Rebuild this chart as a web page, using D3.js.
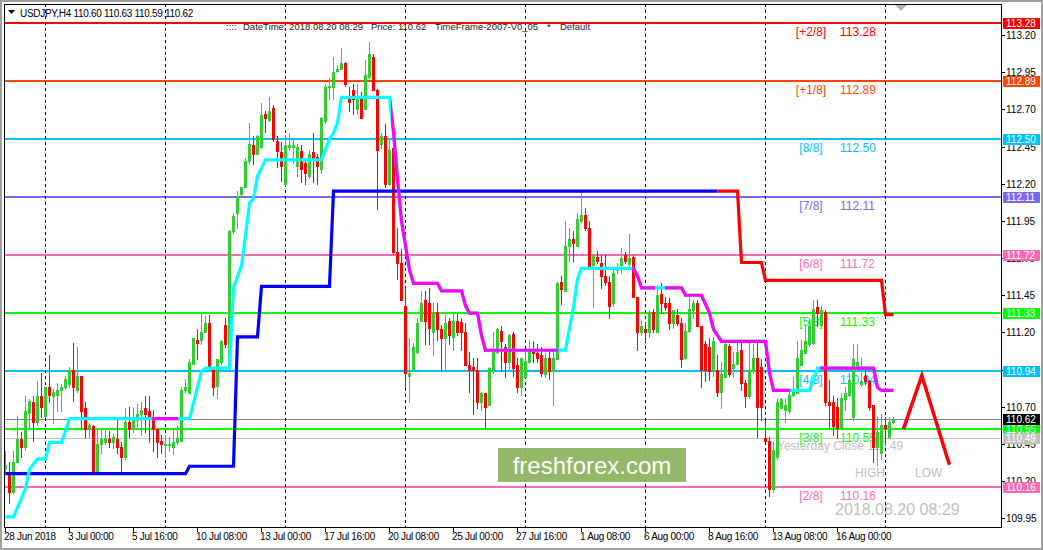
<!DOCTYPE html>
<html><head><meta charset="utf-8">
<script src="https://cdn.jsdelivr.net/npm/d3@7"></script>
<style>
body{margin:0;background:#fff;}
svg{display:block;font-family:"Liberation Sans",Arial,sans-serif;}
</style>
</head><body>
<svg id="c" width="1043" height="550"></svg>
<script>
// ---------------- DATA ----------------
const opens=[110.29,110.26,110.13,110.33,110.48,110.43,110.66,110.73,110.60,110.77,
110.64,110.83,110.77,110.78,110.81,110.83,110.85,110.95,110.81,110.91,
110.69,110.55,110.57,110.27,110.45,110.46,110.48,110.46,110.48,110.43,
110.36,110.60,110.55,110.61,110.65,110.69,110.67,110.62,110.55,110.47,
110.44,110.44,110.43,110.46,110.47,110.81,110.79,110.99,111.15,111.15,
111.20,111.26,110.97,110.84,111.00,111.25,110.96,111.88,112.00,112.13,
112.18,112.35,112.46,112.40,112.45,112.67,112.63,112.71,112.49,112.41,
112.20,112.45,112.45,112.32,112.42,112.34,112.25,112.41,112.38,112.30,
112.62,112.85,112.85,112.96,112.97,113.01,112.79,112.83,112.70,112.77,
112.70,112.92,113.05,112.83,112.47,112.52,112.20,112.44,111.74,111.67,
111.38,110.91,110.95,111.07,111.28,111.42,111.40,111.20,111.34,111.22,
111.16,111.28,111.17,111.28,111.27,111.20,110.98,110.97,110.95,110.73,
110.79,110.71,110.95,111.07,111.21,111.10,111.00,111.19,110.98,110.83,
110.90,111.00,111.07,111.06,111.05,110.92,111.03,110.94,111.02,111.54,
111.48,111.78,111.83,111.78,111.95,111.99,111.90,111.65,111.71,111.67,
111.58,111.54,111.40,111.62,111.65,111.72,111.66,111.71,111.44,111.20,
111.22,111.20,111.34,111.20,111.46,111.40,111.40,111.26,111.32,111.26,
111.03,111.21,111.35,111.40,111.24,111.12,111.10,110.95,110.95,110.80,
110.90,111.11,110.96,110.99,111.08,110.86,110.77,110.94,111.03,110.97,
110.49,110.47,110.15,110.36,110.69,110.68,110.67,110.78,110.79,110.98,
111.06,111.12,111.13,111.37,111.25,111.34,110.73,110.73,110.70,110.56,
110.75,110.78,110.63,110.96,110.85,110.91,110.87,110.71,110.43,110.39,
110.58,110.50,110.60];
const highs=[110.40,110.33,110.40,110.64,110.53,110.77,110.75,110.77,110.87,110.93,
110.83,111.05,110.82,110.86,110.85,110.91,110.97,111.13,111.10,110.91,
110.73,110.59,110.58,110.55,110.55,110.55,110.54,110.52,110.61,110.46,
110.69,110.70,110.69,110.72,110.73,110.77,110.77,110.68,110.55,110.51,
110.51,110.50,110.55,110.57,110.83,110.89,111.02,111.16,111.22,111.33,
111.31,111.32,110.97,111.02,111.15,111.30,111.89,112.00,112.15,112.18,
112.37,112.61,112.52,112.53,112.74,112.69,112.78,112.73,112.52,112.48,
112.53,112.54,112.50,112.47,112.46,112.36,112.43,112.54,112.40,112.65,
112.87,112.91,113.05,113.00,113.11,113.02,112.85,112.87,112.87,112.82,
113.03,113.15,113.07,112.84,112.54,112.60,112.50,112.47,111.90,111.76,
111.50,111.16,111.13,111.30,111.48,111.48,111.50,111.40,111.40,111.25,
111.33,111.30,111.34,111.33,111.30,111.26,111.07,111.03,111.03,110.80,
110.79,110.97,111.20,111.23,111.24,111.12,111.19,111.20,111.03,111.03,
111.07,111.15,111.14,111.12,111.10,111.06,111.07,111.08,111.54,111.58,
111.95,111.90,111.88,112.00,112.15,112.04,111.95,111.73,111.75,111.72,
111.72,111.58,111.64,111.67,111.77,111.74,111.86,111.72,111.44,111.28,
111.27,111.35,111.36,111.52,111.53,111.44,111.43,111.35,111.36,111.30,
111.26,111.46,111.42,111.42,111.24,111.14,111.16,111.17,111.05,111.00,
111.15,111.12,111.07,111.13,111.13,110.88,111.13,111.12,111.13,111.02,
110.61,110.50,110.46,110.76,110.76,110.75,110.81,110.90,111.14,111.15,
111.24,111.30,111.42,111.42,111.38,111.35,110.88,110.77,110.76,110.79,
110.83,110.93,111.12,111.12,111.03,110.96,110.88,110.71,110.63,110.65,
110.63,110.63,110.63];
const lows=[110.25,110.05,110.12,110.33,110.36,110.41,110.56,110.47,110.58,110.63,
110.63,110.73,110.59,110.67,110.67,110.82,110.83,110.74,110.80,110.56,
110.50,110.50,110.27,110.26,110.39,110.45,110.43,110.42,110.39,110.27,
110.35,110.50,110.53,110.57,110.51,110.53,110.46,110.40,110.36,110.39,
110.36,110.40,110.38,110.45,110.47,110.80,110.79,110.99,111.02,111.12,
111.20,110.96,110.78,110.76,110.99,111.10,110.95,111.87,111.90,112.12,
112.18,112.34,112.33,112.40,112.44,112.55,112.62,112.49,112.31,112.22,
112.19,112.43,112.34,112.25,112.21,112.20,112.24,112.21,112.20,112.27,
112.61,112.77,112.77,112.95,112.97,112.86,112.69,112.67,112.67,112.64,
112.70,112.91,112.83,112.03,112.44,112.18,112.19,111.73,111.56,111.42,
110.83,110.73,110.94,111.06,111.28,111.12,111.12,111.05,111.15,110.95,
110.95,111.12,111.08,111.18,111.08,110.98,110.80,110.65,110.69,110.68,
110.56,110.71,110.93,111.06,110.94,110.90,110.94,110.91,110.80,110.78,
110.90,111.00,111.00,111.00,110.91,110.90,110.89,110.71,111.02,111.39,
111.48,111.68,111.68,111.78,111.94,111.89,111.64,111.37,111.67,111.50,
111.52,111.30,111.38,111.60,111.60,111.67,111.63,111.44,111.08,111.18,
111.14,111.17,111.20,111.20,111.33,111.35,111.22,111.23,111.25,110.97,
111.02,111.20,111.30,111.24,110.83,110.87,110.88,110.91,110.77,110.69,
110.90,110.91,110.90,110.99,110.81,110.70,110.76,110.93,110.50,110.61,
110.47,110.10,110.13,110.35,110.69,110.60,110.66,110.77,110.79,110.98,
111.06,111.11,111.12,111.24,111.24,110.71,110.56,110.51,110.49,110.55,
110.68,110.77,110.61,110.95,110.84,110.85,110.68,110.33,110.31,110.35,
110.45,110.49,110.59];
const closes=[110.31,110.13,110.33,110.48,110.43,110.67,110.74,110.60,110.77,110.70,
110.83,110.78,110.80,110.81,110.83,110.89,110.95,110.83,110.91,110.67,
110.55,110.58,110.27,110.45,110.48,110.49,110.46,110.50,110.43,110.36,
110.60,110.55,110.61,110.65,110.68,110.65,110.63,110.55,110.46,110.45,
110.45,110.45,110.46,110.49,110.81,110.83,111.00,111.16,111.13,111.20,
111.26,110.97,110.83,111.02,111.14,111.12,111.88,111.98,112.12,112.18,
112.35,112.47,112.40,112.52,112.66,112.64,112.69,112.50,112.42,112.32,
112.46,112.46,112.46,112.45,112.30,112.27,112.40,112.36,112.32,112.64,
112.85,112.86,112.95,112.97,113.01,112.87,112.75,112.77,112.79,112.64,
112.93,113.07,112.83,112.43,112.52,112.20,112.43,111.74,111.67,111.42,
110.93,110.93,111.10,111.26,111.40,111.28,111.23,111.34,111.22,111.16,
111.26,111.18,111.28,111.20,111.20,110.98,110.95,110.95,110.73,110.79,
110.70,110.96,111.07,111.22,111.14,111.00,111.18,110.96,110.83,111.03,
111.01,111.07,111.06,111.03,110.93,111.03,110.94,111.03,111.53,111.49,
111.78,111.83,111.80,111.96,111.99,111.90,111.64,111.72,111.68,111.58,
111.54,111.38,111.60,111.64,111.70,111.68,111.70,111.44,111.20,111.24,
111.20,111.34,111.22,111.45,111.40,111.37,111.26,111.35,111.26,111.02,
111.21,111.36,111.40,111.24,110.95,110.95,110.94,111.14,110.80,110.92,
111.12,110.92,110.99,111.07,110.86,110.77,110.95,111.03,110.70,110.70,
110.47,110.15,110.41,110.73,110.75,110.71,110.78,110.80,111.03,111.08,
111.14,111.24,111.36,111.33,111.35,110.73,110.71,110.57,110.56,110.76,
110.79,110.88,111.02,111.00,110.87,110.87,110.70,110.43,110.53,110.58,
110.56,110.60,110.62];

const xTickBars=[0,16,32,48,64,80,96,112,128,144,160,176,192,208];
const xTickLabels=["28 Jun 2018","3 Jul 00:00","5 Jul 16:00","10 Jul 08:00","13 Jul 00:00","17 Jul 16:00","20 Jul 08:00","25 Jul 00:00","27 Jul 16:00","1 Aug 08:00","6 Aug 00:00","8 Aug 16:00","13 Aug 08:00","16 Aug 00:00"];
const separatorBars=[10,40,70,100,130,160,190,220];
const yTicks=[113.20,112.95,112.70,112.45,112.20,111.95,111.70,111.45,111.20,110.95,110.70,110.45,110.20,109.95];

const mmNames=["[+2/8]","[+1/8]","[8/8]","[7/8]","[6/8]","[5/8]","[4/8]","[3/8]","[2/8]"];
const mmValues=[113.28,112.89,112.50,112.11,111.72,111.33,110.94,110.55,110.16];
const mmColors=["#FF0000","#FF4500","#00BFFF","#7B68EE","#FF69B4","#00FF00","#00BFFF","#00FF00","#FF69B4"];

const currentPrice=110.62;
const yesterdayClose=110.49;
const headerOHLC=[110.60,110.63,110.59,110.62];

// trailing step line (blue while up, red while down)
const trendBars=[0,45,46,57,58,63,64,81,82,178,183,184,189,190,219,220,222];
const trendVals=[110.25,110.25,110.30,110.30,111.17,111.17,111.51,111.51,112.15,112.15,112.15,111.67,111.67,111.55,111.55,111.32,111.32];
const trendRedFrom=178;

// second step line (cyan / magenta)
const stBars=[0,2,5,6,8,10,11,14,16,46,49,50,56,57,59,60,61,62,63,65,79,81,82,83,84,96,97,98,99,101,102,108,109,114,115,116,118,119,120,140,141,142,143,144,157,158,159,169,170,174,176,177,179,190,191,192,201,203,217,218,219,222];
const stVals=[109.96,109.96,110.15,110.28,110.35,110.35,110.46,110.46,110.62,110.62,110.94,110.96,110.96,111.50,111.65,111.85,112.07,112.10,112.25,112.36,112.36,112.50,112.54,112.61,112.78,112.78,112.55,112.23,111.95,111.62,111.53,111.53,111.48,111.48,111.38,111.33,111.33,111.18,111.08,111.08,111.23,111.37,111.56,111.63,111.63,111.58,111.50,111.50,111.45,111.45,111.33,111.22,111.14,111.14,110.93,110.81,110.81,110.96,110.96,110.83,110.81,110.81];
const stMagentaFrom=[36.7,96.5,156.8,165,203.8];
const stMagentaTo=[43.3,138.3,162.5,196.3,222.5];

// drawn arrow (bar offsets beyond last bar, prices)
const arrowBars=[224.6,229.2,236.1];
const arrowVals=[110.55,110.91,110.31];

// ---------------- DRAW ----------------
const svg=d3.select("#c");
const W=1043,H=550;
const plotL=4,plotR=1001,plotT=4,plotB=527;
const x=d3.scaleLinear().domain([0,222]).range([5,893]);
const y=d3.scaleLinear().domain([109.95,113.20]).range([518.3,35]);
const ry=v=>Math.round(y(v));
const green="#32CD32",red="#FF0000";

svg.append("rect").attr("width",W).attr("height",H).attr("fill","#A0A0A0");
svg.append("rect").attr("x",2).attr("y",2).attr("width",W-4).attr("height",H-4).attr("fill","#ffffff");

const defs=svg.append("defs");
defs.append("clipPath").attr("id","plotclip").append("rect")
  .attr("x",plotL+1).attr("y",plotT+1).attr("width",plotR-plotL-1).attr("height",plotB-plotT-1);

const plot=svg.append("g").attr("clip-path","url(#plotclip)");

// murrey lines
mmValues.forEach((v,k)=>{
  plot.append("line").attr("x1",plotL).attr("x2",plotR).attr("y1",ry(v)).attr("y2",ry(v))
    .attr("stroke",mmColors[k]).attr("stroke-width",2);
  plot.append("text").attr("x",811).attr("y",ry(v)+13).attr("text-anchor","middle")
    .attr("font-size","12px").attr("fill",mmColors[k]).text(mmNames[k]);
  plot.append("text").attr("x",840).attr("y",ry(v)+13)
    .attr("font-size","12px").attr("fill",mmColors[k]).text(v.toFixed(2));
});
// current price & yesterday close lines
plot.append("line").attr("x1",plotL).attr("x2",plotR).attr("y1",ry(currentPrice)+0.5).attr("y2",ry(currentPrice)+0.5)
  .attr("stroke","#778899").attr("stroke-width",1);
plot.append("line").attr("x1",plotL).attr("x2",plotR).attr("y1",ry(yesterdayClose)+0.5).attr("y2",ry(yesterdayClose)+0.5)
  .attr("stroke","#C0C0C0").attr("stroke-width",1);
plot.append("text").attr("x",777).attr("y",ry(yesterdayClose)+12).attr("font-size","12px").attr("fill","#C0C0C0")
  .text("Yesterday Close "+yesterdayClose.toFixed(2));
plot.append("text").attr("x",855).attr("y",477).attr("font-size","12px").attr("fill","#C0C0C0").text("HIGH");
plot.append("text").attr("x",915).attr("y",477).attr("font-size","12px").attr("fill","#C0C0C0").text("LOW");
plot.append("text").attr("x",835).attr("y",515).attr("font-size","16px").attr("fill","#C0C0C0").text("2018.08.20 08:29");

// separators
plot.selectAll("line.sep").data(separatorBars).join("line").attr("class","sep")
  .attr("x1",b=>x(b)+0.5).attr("x2",b=>x(b)+0.5).attr("y1",plotT).attr("y2",plotB)
  .attr("stroke","#000").attr("stroke-width",1).attr("stroke-dasharray","3,3");

// candles
const idx=d3.range(opens.length);
const col=i=>closes[i]>=opens[i]?green:red;
plot.selectAll("rect.wick").data(idx).join("rect").attr("class","wick")
  .attr("x",i=>x(i)).attr("width",1)
  .attr("y",i=>ry(highs[i])).attr("height",i=>Math.max(1,ry(lows[i])-ry(highs[i])+1))
  .attr("fill",col);
plot.selectAll("rect.body").data(idx).join("rect").attr("class","body")
  .attr("x",i=>x(i)-1).attr("width",3)
  .attr("y",i=>ry(Math.max(opens[i],closes[i])))
  .attr("height",i=>Math.max(1,ry(Math.min(opens[i],closes[i]))-ry(Math.max(opens[i],closes[i]))+1))
  .attr("fill",col);

// trend line blue/red
const line=d3.line().x(d=>x(d[0])+0.5).y(d=>y(d[1]));
const trendPts=trendBars.map((b,k)=>[b,trendVals[k]]);
defs.append("clipPath").attr("id","tBlue").append("rect").attr("x",0).attr("y",0).attr("width",x(trendRedFrom)+0.5).attr("height",H);
defs.append("clipPath").attr("id","tRed").append("rect").attr("x",x(trendRedFrom)+0.5).attr("y",0).attr("width",W).attr("height",H);
plot.append("path").attr("d",line(trendPts)).attr("fill","none").attr("stroke","#0000FF").attr("stroke-width",3.2).attr("clip-path","url(#tBlue)");
plot.append("path").attr("d",line(trendPts)).attr("fill","none").attr("stroke","#FF0000").attr("stroke-width",3.2).attr("clip-path","url(#tRed)");

// cyan / magenta line
const stPts=stBars.map((b,k)=>[b,stVals[k]]);
const mc=defs.append("clipPath").attr("id","stMag");
stMagentaFrom.forEach((a,k)=>{
  mc.append("rect").attr("x",x(a)).attr("y",0).attr("width",x(stMagentaTo[k])-x(a)).attr("height",H);
});
plot.append("path").attr("d",line(stPts)).attr("fill","none").attr("stroke","#00FFFF").attr("stroke-width",3.2);
plot.append("path").attr("d",line(stPts)).attr("fill","none").attr("stroke","#FF00FF").attr("stroke-width",3.2).attr("clip-path","url(#stMag)");

// drawn arrow
plot.append("path").attr("d",d3.line().x(d=>x(d[0])).y(d=>y(d[1]))(arrowBars.map((b,k)=>[b,arrowVals[k]])))
  .attr("fill","none").attr("stroke","#FF0000").attr("stroke-width",3.5).attr("stroke-linejoin","miter");

// frame
svg.append("rect").attr("x",plotL+0.5).attr("y",plotT+0.5).attr("width",plotR-plotL).attr("height",plotB-plotT)
  .attr("fill","none").attr("stroke","#000").attr("stroke-width",1);

// shift marker
svg.append("path").attr("d","M895,5 L907,5 L901,11 Z").attr("fill","#B0B0B0");

// right axis boxes (price labels)
const boxes=mmValues.map((v,k)=>({v,bg:mmColors[k],fg:"#fff"}));
boxes.push({v:currentPrice,bg:"#000",fg:"#fff"});
boxes.push({v:yesterdayClose,bg:"#C0C0C0",fg:"#fff"});

// right axis ticks (a label entirely hidden under a price box is not drawn)
const ya=svg.append("g").attr("font-size","10px");
yTicks.forEach(v=>{
  ya.append("line").attr("x1",plotR).attr("x2",plotR+4).attr("y1",ry(v)+0.5).attr("y2",ry(v)+0.5).attr("stroke","#000");
  const covered=boxes.some(b=>Math.abs(ry(b.v)-ry(v))<=2);
  if(!covered) ya.append("text").attr("x",1006).attr("y",ry(v)+4).attr("fill","#000").text(v.toFixed(2));
});
boxes.forEach(b=>{
  ya.append("rect").attr("x",1003).attr("y",ry(b.v)-5).attr("width",37).attr("height",11).attr("fill",b.bg);
  ya.append("text").attr("x",1006).attr("y",ry(b.v)+4).attr("fill",b.fg).text(b.v.toFixed(2));
});

// bottom axis
const xa=svg.append("g").attr("font-size","10px");
xTickBars.forEach((b,k)=>{
  xa.append("line").attr("x1",x(b)+0.5).attr("x2",x(b)+0.5).attr("y1",plotB).attr("y2",plotB+5).attr("stroke","#000");
  xa.append("text").attr("x",x(b)-1).attr("y",540).attr("fill","#000").attr("letter-spacing","-0.3px").text(xTickLabels[k]);
});

// header
svg.append("path").attr("d","M8,10 L15,10 L11.5,14 Z").attr("fill","#000");
svg.append("text").attr("x",20).attr("y",17).attr("font-size","10px").attr("letter-spacing","-0.3px").attr("fill","#000")
  .text("USDJPY,H4  "+headerOHLC.map(v=>v.toFixed(2)).join(" "));
const hd=svg.append("g").attr("font-size","9.5px").attr("fill","#222");
hd.append("text").attr("x",226).attr("y",30).text("::::");
hd.append("text").attr("x",243).attr("y",30).text("DateTime:  2018.08.20 08:29");
hd.append("text").attr("x",371).attr("y",30).text("Price: "+currentPrice.toFixed(2));
hd.append("text").attr("x",435).attr("y",30).text("TimeFrame-2007-V0_05");
hd.append("text").attr("x",547).attr("y",30).text("*");
hd.append("text").attr("x",560).attr("y",30).text("Default");

// watermark
svg.append("rect").attr("x",498).attr("y",448).attr("width",188).attr("height",34).attr("fill","#8DB45F").attr("opacity",0.95);
svg.append("text").attr("x",592).attr("y",474).attr("text-anchor","middle").attr("font-size","24px").attr("fill","#fff").text("freshforex.com");
</script>
</body></html>
